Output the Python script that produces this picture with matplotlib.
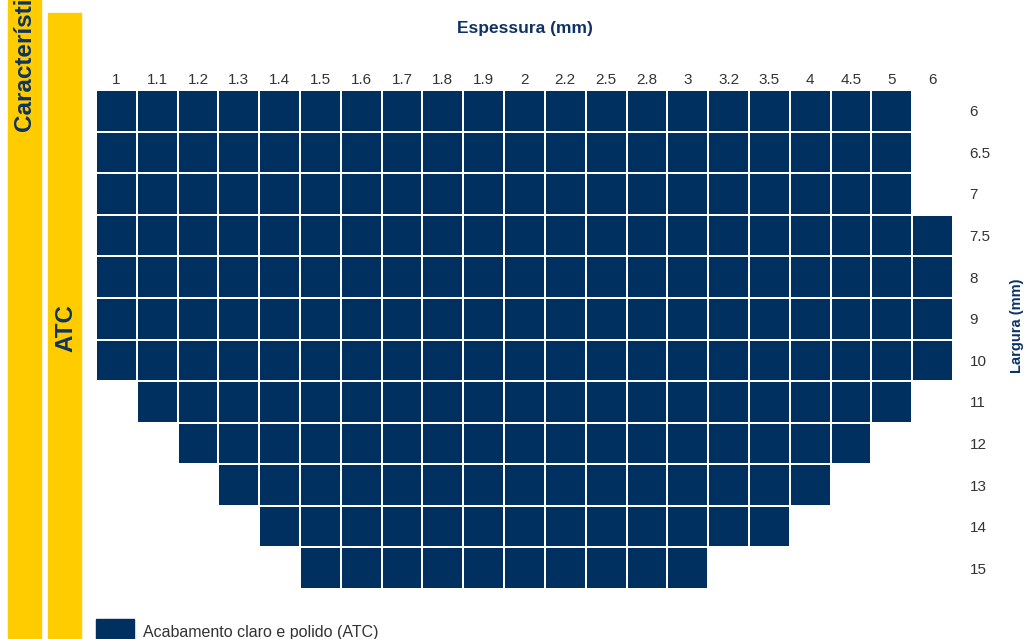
import numpy as np
import matplotlib.pyplot as plt
from matplotlib.patches import Rectangle

plt.rcParams['font.family'] = ['Liberation Sans', 'DejaVu Sans']

# Espessura (colunas) e Largura (linhas)
espessuras = ['1', '1.1', '1.2', '1.3', '1.4', '1.5', '1.6', '1.7', '1.8', '1.9', '2',
              '2.2', '2.5', '2.8', '3', '3.2', '3.5', '4', '4.5', '5', '6']
larguras = ['6', '6.5', '7', '7.5', '8', '9', '10', '11', '12', '13', '14', '15']

# primeira e ultima espessura disponivel para cada largura
inicio = ['1', '1', '1', '1', '1', '1', '1', '1.1', '1.2', '1.3', '1.4', '1.5']
fim = ['5', '5', '5', '6', '6', '6', '6', '5', '4.5', '4', '3.5', '3']

azul = '#00305f'
amarelo = '#ffcc00'
texto_azul = '#0d3366'
cinza = '#333333'

# matriz de disponibilidade
disp = np.zeros((len(larguras), len(espessuras)))
for i in range(len(larguras)):
    a = espessuras.index(inicio[i])
    b = espessuras.index(fim[i])
    disp[i, a:b + 1] = 1
disp = np.ma.masked_equal(disp, 0)

W, H = 1027, 639
fig = plt.figure(figsize=(W / 100, H / 100), dpi=100)

# barras amarelas da esquerda
fig.patches.append(Rectangle((8 / W, 0), 33 / W, 1, transform=fig.transFigure,
                             color=amarelo, zorder=0))
fig.patches.append(Rectangle((48 / W, 0), 33 / W, 1 - 13 / H, transform=fig.transFigure,
                             color=amarelo, zorder=0))
fig.text(25 / W, 1 - 131 / H, 'Características', rotation=90, ha='center', va='bottom',
         fontsize=17.5, fontweight='bold', color=texto_azul)
fig.text(66 / W, 1 - 328 / H, 'ATC', rotation=90, ha='center', va='center',
         fontsize=17.5, fontweight='bold', color=texto_azul)

# grade
ax = fig.add_axes([96 / W, (H - 589) / H, 857 / W, 499 / H])
cmap = plt.matplotlib.colors.ListedColormap([azul])
ax.pcolormesh(np.arange(len(espessuras) + 1), np.arange(len(larguras) + 1), disp,
              cmap=cmap, edgecolors='white', linewidth=1.2)
ax.set_xlim(0, len(espessuras))
ax.set_ylim(len(larguras), 0)
for s in ax.spines.values():
    s.set_visible(False)

ax.set_xticks(np.arange(len(espessuras)) + 0.5)
ax.set_xticklabels(espessuras, fontsize=11, color=cinza)
ax.xaxis.tick_top()
ax.tick_params(axis='x', length=0, pad=2)

ax.set_yticks(np.arange(len(larguras)) + 0.5)
ax.set_yticklabels(larguras, fontsize=11, color=cinza)
ax.yaxis.tick_right()
ax.tick_params(axis='y', length=0, pad=12)
for lbl in ax.get_yticklabels():
    lbl.set_horizontalalignment('left')

fig.text(525 / W, 1 - 28 / H, 'Espessura (mm)', ha='center', va='center',
         fontsize=12.5, fontweight='bold', color=texto_azul)
fig.text(1017 / W, 1 - 326 / H, 'Largura (mm)', rotation=90, ha='center', va='center',
         fontsize=10.5, fontweight='bold', color=texto_azul)

# legenda
fig.patches.append(Rectangle((96 / W, 0), 38 / W, 20 / H, transform=fig.transFigure,
                             color=azul))
fig.text(143 / W, 1 - 632 / H, 'Acabamento claro e polido (ATC)', ha='left', va='center',
         fontsize=11.5, color=cinza)

fig.savefig('out.png', dpi=100)
